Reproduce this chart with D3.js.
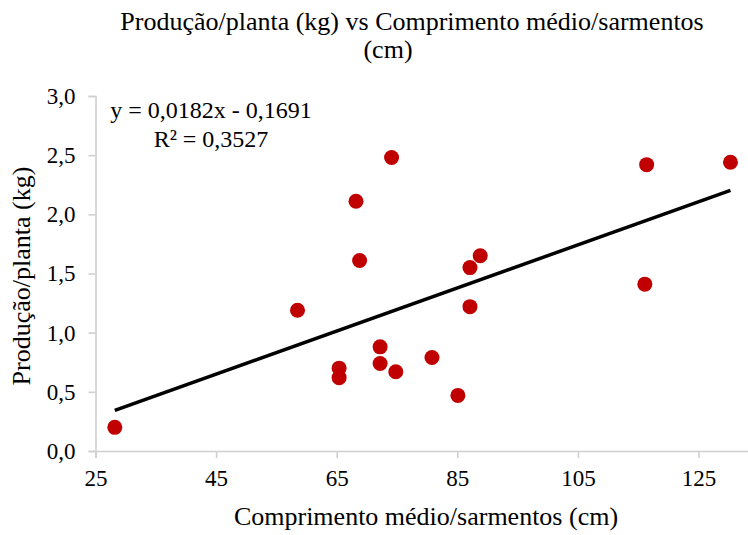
<!DOCTYPE html>
<html>
<head>
<meta charset="utf-8">
<script src="https://cdn.jsdelivr.net/npm/d3@7"></script>
<style>
  body { margin: 0; background: #fff; }
  svg { display: block; font-family: "Liberation Serif", "Times New Roman", serif; }
</style>
</head>
<body>
<svg id="chart" width="748" height="535"></svg>
<script>
// comprimento medio dos sarmentos (cm)
var comprimento = [28.2, 58.5, 65.4, 65.4, 68.2, 68.8, 72.2, 72.2, 74.1, 74.8, 80.8, 85.1, 87.1, 87.1, 88.8, 116.1, 116.4, 130.3];
// producao por planta (kg)
var producao = [0.20, 1.19, 0.70, 0.62, 2.11, 1.61, 0.88, 0.74, 2.48, 0.67, 0.79, 0.47, 1.55, 1.22, 1.65, 1.41, 2.42, 2.44];
var xTicks = [25, 45, 65, 85, 105, 125];
var yTicks = [0, 0.5, 1, 1.5, 2, 2.5, 3];
var slope = 0.0182, intercept = -0.1691;
var eqLabels = ["y = 0,0182x - 0,1691", "R² = 0,3527"];
var titleLines = ["Produção/planta (kg) vs Comprimento médio/sarmentos", "(cm)"];

var serif = "'Liberation Serif', 'Times New Roman', serif";

var svg = d3.select("#chart"),
	margin = {top: 96, left: 95.5, bottom: 84, right: 0};

var x = d3.scaleLinear()
	.domain([25, 135])
	.range([margin.left, margin.left + 110 * 6.03]);

var y = d3.scaleLinear()
	.domain([0, 3])
	.range([451, 96]);

var fmt = d3.format(".1f");
var comma = v => fmt(v).replace(".", ",");

// eixo x
var xAxis = svg.append("g")
	.attr("transform", "translate(0,451)")
	.call(d3.axisBottom(x).tickValues(xTicks).tickSize(7).tickPadding(6).tickFormat(d3.format("d")));

// eixo y
var yAxis = svg.append("g")
	.attr("transform", `translate(${margin.left},0)`)
	.call(d3.axisLeft(y).tickValues(yTicks).tickSize(7).tickPadding(13).tickFormat(comma));

svg.selectAll(".domain").attr("stroke", "#d0d0d0").attr("stroke-width", 1.6);
svg.selectAll(".tick line").attr("stroke", "#d0d0d0").attr("stroke-width", 1.6);
xAxis.attr("font-family", serif).attr("font-size", 23);
yAxis.attr("font-family", serif).attr("font-size", 23);
svg.selectAll(".tick text").attr("fill", "#000");
xAxis.selectAll(".tick text").attr("dy", null).attr("y", 35);

// linha de tendencia
var xMin = d3.min(comprimento), xMax = d3.max(comprimento);
svg.append("line")
	.attr("x1", x(xMin))
	.attr("y1", y(slope * xMin + intercept))
	.attr("x2", x(xMax))
	.attr("y2", y(slope * xMax + intercept))
	.attr("stroke", "#000")
	.attr("stroke-width", 3.5);

// pontos
svg.selectAll("circle.pt")
	.data(comprimento)
	.enter().append("circle")
	.attr("class", "pt")
	.attr("cx", d => x(d))
	.attr("cy", (d, i) => y(producao[i]))
	.attr("r", 7.5)
	.attr("fill", "#c00000");

// equacao
svg.selectAll("text.eq")
	.data(eqLabels)
	.enter().append("text")
	.attr("class", "eq")
	.attr("x", 211)
	.attr("y", (d, i) => 118 + i * 29)
	.attr("text-anchor", "middle")
	.style("font-size", "24px")
	.text(d => d);

// titulo
svg.selectAll("text.title")
	.data(titleLines)
	.enter().append("text")
	.attr("class", "title")
	.attr("x", (d, i) => i == 0 ? 412 : 388)
	.attr("y", (d, i) => 30 + i * 28)
	.attr("text-anchor", "middle")
	.style("font-size", "26px")
	.text(d => d);

// titulos dos eixos
svg.append("text")
	.attr("x", 426)
	.attr("y", 525)
	.attr("text-anchor", "middle")
	.style("font-size", "26px")
	.text("Comprimento médio/sarmentos (cm)");

svg.append("text")
	.attr("transform", "translate(30,276) rotate(-90)")
	.attr("text-anchor", "middle")
	.style("font-size", "26px")
	.text("Produção/planta (kg)");
</script>
</body>
</html>
